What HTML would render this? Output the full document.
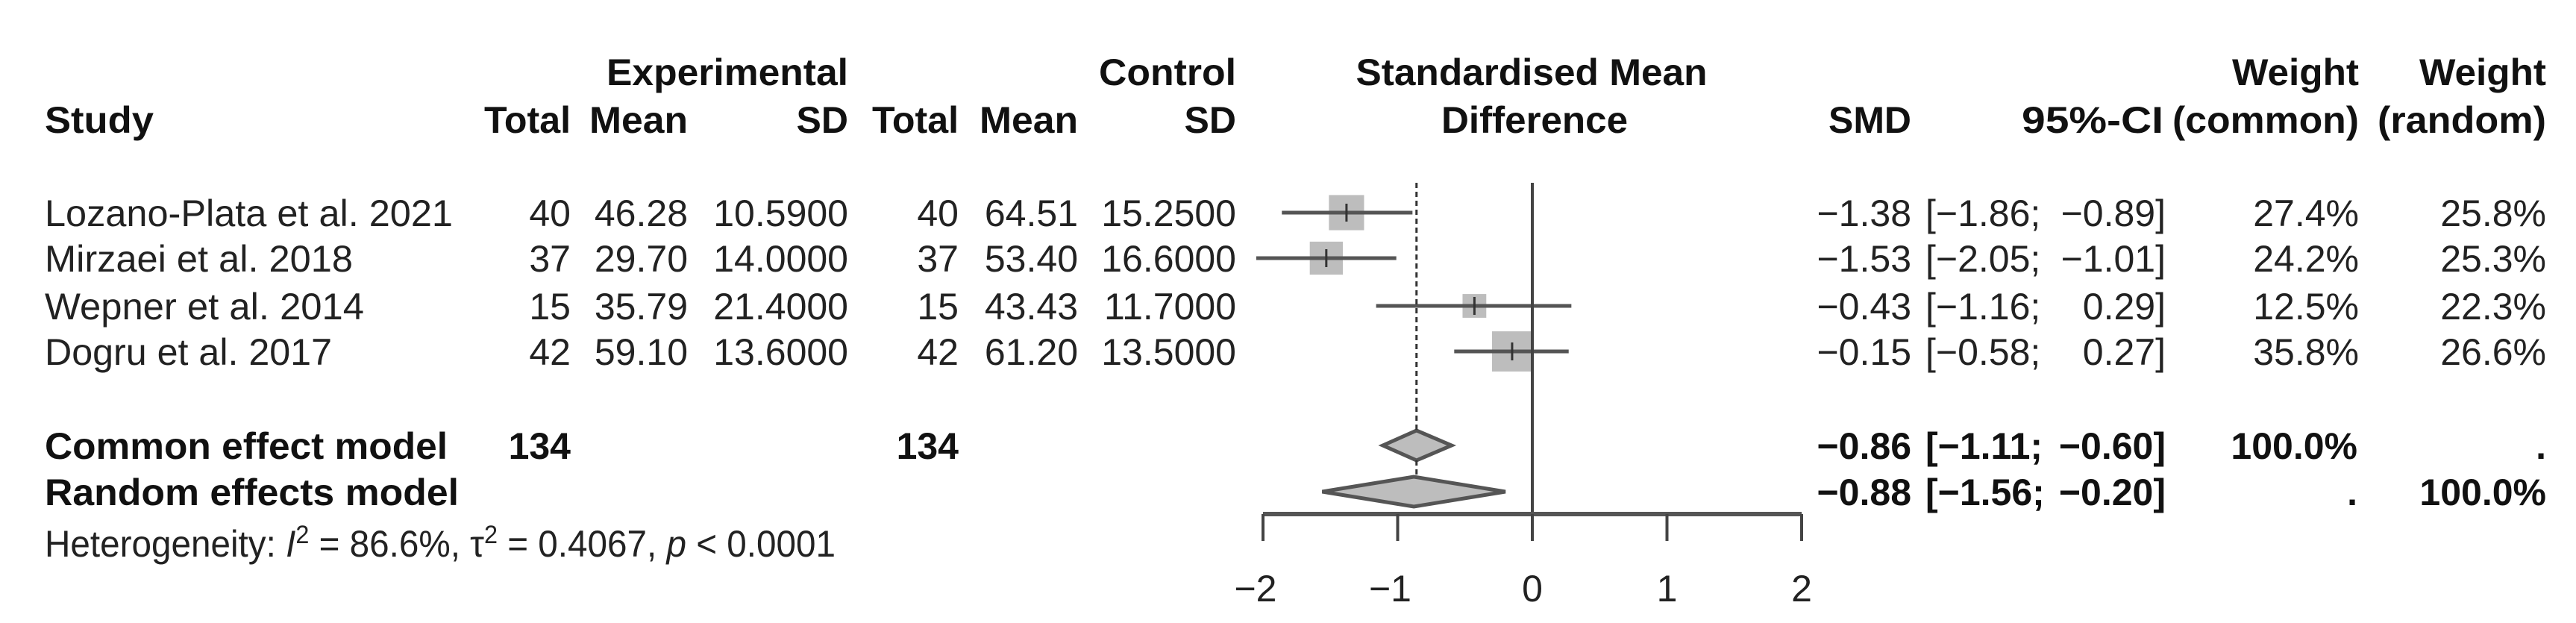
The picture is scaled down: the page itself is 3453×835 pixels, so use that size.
<!DOCTYPE html>
<html><head><meta charset="utf-8"><style>
html,body{margin:0;padding:0;background:#fff;}
svg{display:block;}
text{font-family:"Liberation Sans",Arial,sans-serif;font-size:50px;fill:#222;}
.b{font-weight:bold;fill:#111;}
</style></head><body>
<svg id="chart" width="3453" height="835" viewBox="0 0 3453 835" xmlns="http://www.w3.org/2000/svg">
<g id="hdr">
<text class="b" x="60" y="178" textLength="146" lengthAdjust="spacingAndGlyphs">Study</text>
<text class="b" x="1137" y="114" text-anchor="end" textLength="324" lengthAdjust="spacingAndGlyphs">Experimental</text>
<text class="b" x="765" y="178" text-anchor="end" textLength="116" lengthAdjust="spacingAndGlyphs">Total</text>
<text class="b" x="922" y="178" text-anchor="end" textLength="132" lengthAdjust="spacingAndGlyphs">Mean</text>
<text class="b" x="1137" y="178" text-anchor="end">SD</text>
<text class="b" x="1657" y="114" text-anchor="end" textLength="184" lengthAdjust="spacingAndGlyphs">Control</text>
<text class="b" x="1285" y="178" text-anchor="end" textLength="116" lengthAdjust="spacingAndGlyphs">Total</text>
<text class="b" x="1445" y="178" text-anchor="end" textLength="132" lengthAdjust="spacingAndGlyphs">Mean</text>
<text class="b" x="1657" y="178" text-anchor="end">SD</text>
<text class="b" x="2053" y="114" text-anchor="middle" textLength="471" lengthAdjust="spacingAndGlyphs">Standardised Mean</text>
<text class="b" x="2057" y="178" text-anchor="middle" textLength="250" lengthAdjust="spacingAndGlyphs">Difference</text>
<text class="b" x="2562" y="178" text-anchor="end" textLength="111" lengthAdjust="spacingAndGlyphs">SMD</text>
<text class="b" x="2900" y="178" text-anchor="end" textLength="190" lengthAdjust="spacingAndGlyphs">95%-CI</text>
<text class="b" x="3162" y="114" text-anchor="end" textLength="170" lengthAdjust="spacingAndGlyphs">Weight</text>
<text class="b" x="3162" y="178" text-anchor="end" textLength="250" lengthAdjust="spacingAndGlyphs">(common)</text>
<text class="b" x="3413" y="114" text-anchor="end" textLength="170" lengthAdjust="spacingAndGlyphs">Weight</text>
<text class="b" x="3413" y="178" text-anchor="end" textLength="226" lengthAdjust="spacingAndGlyphs">(random)</text>
</g>
<g id="rows"></g>
<g id="plot"></g>
<text x="60" y="746" textLength="1060" lengthAdjust="spacingAndGlyphs">Heterogeneity: <tspan font-style="italic">I</tspan><tspan dy="-18" font-size="34">2</tspan><tspan dy="18"> = 86.6%, τ</tspan><tspan dy="-18" font-size="34">2</tspan><tspan dy="18"> = 0.4067, </tspan><tspan font-style="italic">p</tspan> &lt; 0.0001</text>
</svg>
<script>
const studies=["Lozano-Plata et al. 2021","Mirzaei et al. 2018","Wepner et al. 2014","Dogru et al. 2017"];
const studyWidths=[547,413,428,385];
const expTotal=[40,37,15,42];
const expMean=["46.28","29.70","35.79","59.10"];
const expSD=["10.5900","14.0000","21.4000","13.6000"];
const ctrlTotal=[40,37,15,42];
const ctrlMean=["64.51","53.40","43.43","61.20"];
const ctrlSD=["15.2500","16.6000","11.7000","13.5000"];
const smd=[-1.38,-1.53,-0.43,-0.15];
const lower=[-1.86,-2.05,-1.16,-0.58];
const upper=[-0.89,-1.01,0.29,0.27];
const wCommon=[27.4,24.2,12.5,35.8];
const wRandom=[25.8,25.3,22.3,26.6];
const commonEst=[-0.86,-1.11,-0.60];
const randomEst=[-0.88,-1.56,-0.20];
const ticks=[-2,-1,0,1,2];

const NS="http://www.w3.org/2000/svg";
const X0=2054, PU=180.5;
function xs(v){return X0+v*PU;}
const rowY=[285,346,410,471];
const comY=597, ranY=659, axisY=689;
function fmt(v){return (v<0?"\u2212":"")+Math.abs(v).toFixed(2);}
function mk(tag,attrs,parent){const e=document.createElementNS(NS,tag);for(const k in attrs)e.setAttribute(k,attrs[k]);parent.appendChild(e);return e;}
function txt(parent,s,x,y,anchor,cls){const t=mk("text",{x:x,y:y,"text-anchor":anchor||"start"},parent);if(cls)t.setAttribute("class",cls);t.textContent=s;return t;}

const rows=document.getElementById("rows");
const plot=document.getElementById("plot");
for(let i=0;i<studies.length;i++){
  const y=rowY[i]+18;
  let t=txt(rows,studies[i],60,y);
  t.setAttribute("textLength",studyWidths[i]);t.setAttribute("lengthAdjust","spacingAndGlyphs");
  
  
  t=txt(rows,String(expTotal[i]),765,y,"end");
  
  
  t=txt(rows,expMean[i],922,y,"end");
  
  
  t=txt(rows,expSD[i],1137,y,"end");
  
  
  t=txt(rows,String(ctrlTotal[i]),1285,y,"end");
  
  
  t=txt(rows,ctrlMean[i],1445,y,"end");
  
  
  t=txt(rows,ctrlSD[i],1657,y,"end");
  
  
  t=txt(rows,fmt(smd[i]),2562,y,"end");
  
  
  t=txt(rows,"["+fmt(lower[i])+";",2581,y,"start");
  
  
  t=txt(rows,fmt(upper[i])+"]",2903,y,"end");
  
  
  t=txt(rows,wCommon[i].toFixed(1)+"%",3162,y,"end");
  
  
  t=txt(rows,wRandom[i].toFixed(1)+"%",3413,y,"end");
  
  
  // plot marks
  const s=9*Math.sqrt(wCommon[i]);
  const sq=mk("rect",{x:xs(smd[i])-s/2,y:rowY[i]-s/2,width:s,height:s,fill:"#bdbdbd"},plot);
  
  
  const ci=mk("line",{x1:xs(lower[i]),x2:xs(upper[i]),y1:rowY[i],y2:rowY[i],stroke:"#555",'stroke-width':5},plot);
  
  
  const tk=mk("line",{x1:xs(smd[i]),x2:xs(smd[i]),y1:rowY[i]-12,y2:rowY[i]+12,stroke:"#333",'stroke-width':3},plot);
  
  
}
// summary rows
function summary(label,est,y,w1,w2,nm,totals){
  let t=txt(rows,label,60,y+18,"start","b");
  t.setAttribute("textLength",nm==="common"?540:555);t.setAttribute("lengthAdjust","spacingAndGlyphs");
  
  
  if(totals){
    t=txt(rows,totals[0],765,y+18,"end","b");
    
    
    t=txt(rows,totals[1],1285,y+18,"end","b");
    
    
  }
  t=txt(rows,fmt(est[0]),2562,y+18,"end","b");
  
  
  t=txt(rows,"["+fmt(est[1])+";",2581,y+18,"start","b");
  
  
  t=txt(rows,fmt(est[2])+"]",2903,y+18,"end","b");
  
  
  t=txt(rows,w1,3160,y+18,"end","b");
  
  
  t=txt(rows,w2,3413,y+18,"end","b");
  
  
  const h=20;
  const d=mk("polygon",{points:[xs(est[1])+","+y,xs(est[0])+","+(y-h),xs(est[2])+","+y,xs(est[0])+","+(y+h)].join(" "),fill:"#bdbdbd",stroke:"#555","stroke-width":5},plot);
  
  
}
summary("Common effect model",commonEst,comY,"100.0%",".","common",["134","134"]);
summary("Random effects model",randomEst,ranY,".","100.0%","random",null);
// reference lines
const ref=mk("line",{x1:xs(commonEst[0]),x2:xs(commonEst[0]),y1:245,y2:comY-20,stroke:"#333","stroke-width":3,"stroke-dasharray":"7,5"},plot);


const ref2=mk("line",{x1:xs(commonEst[0]),x2:xs(commonEst[0]),y1:comY+20,y2:ranY-20,stroke:"#333","stroke-width":3,"stroke-dasharray":"7,5"},plot);


const zero=mk("line",{x1:xs(0),x2:xs(0),y1:245,y2:axisY,stroke:"#444","stroke-width":4},plot);


const ax=mk("line",{x1:xs(ticks[0]),x2:xs(ticks[ticks.length-1]),y1:axisY,y2:axisY,stroke:"#555","stroke-width":6},plot);


for(const v of ticks){
  const l=mk("line",{x1:xs(v),x2:xs(v),y1:axisY,y2:axisY+36,stroke:"#444","stroke-width":4},plot);
  
  
  const t=txt(plot,(v<0?"\u2212":"")+Math.abs(v),xs(v)-(v<0?10:0),806,"middle");
  
  
}
</script>
</body></html>
